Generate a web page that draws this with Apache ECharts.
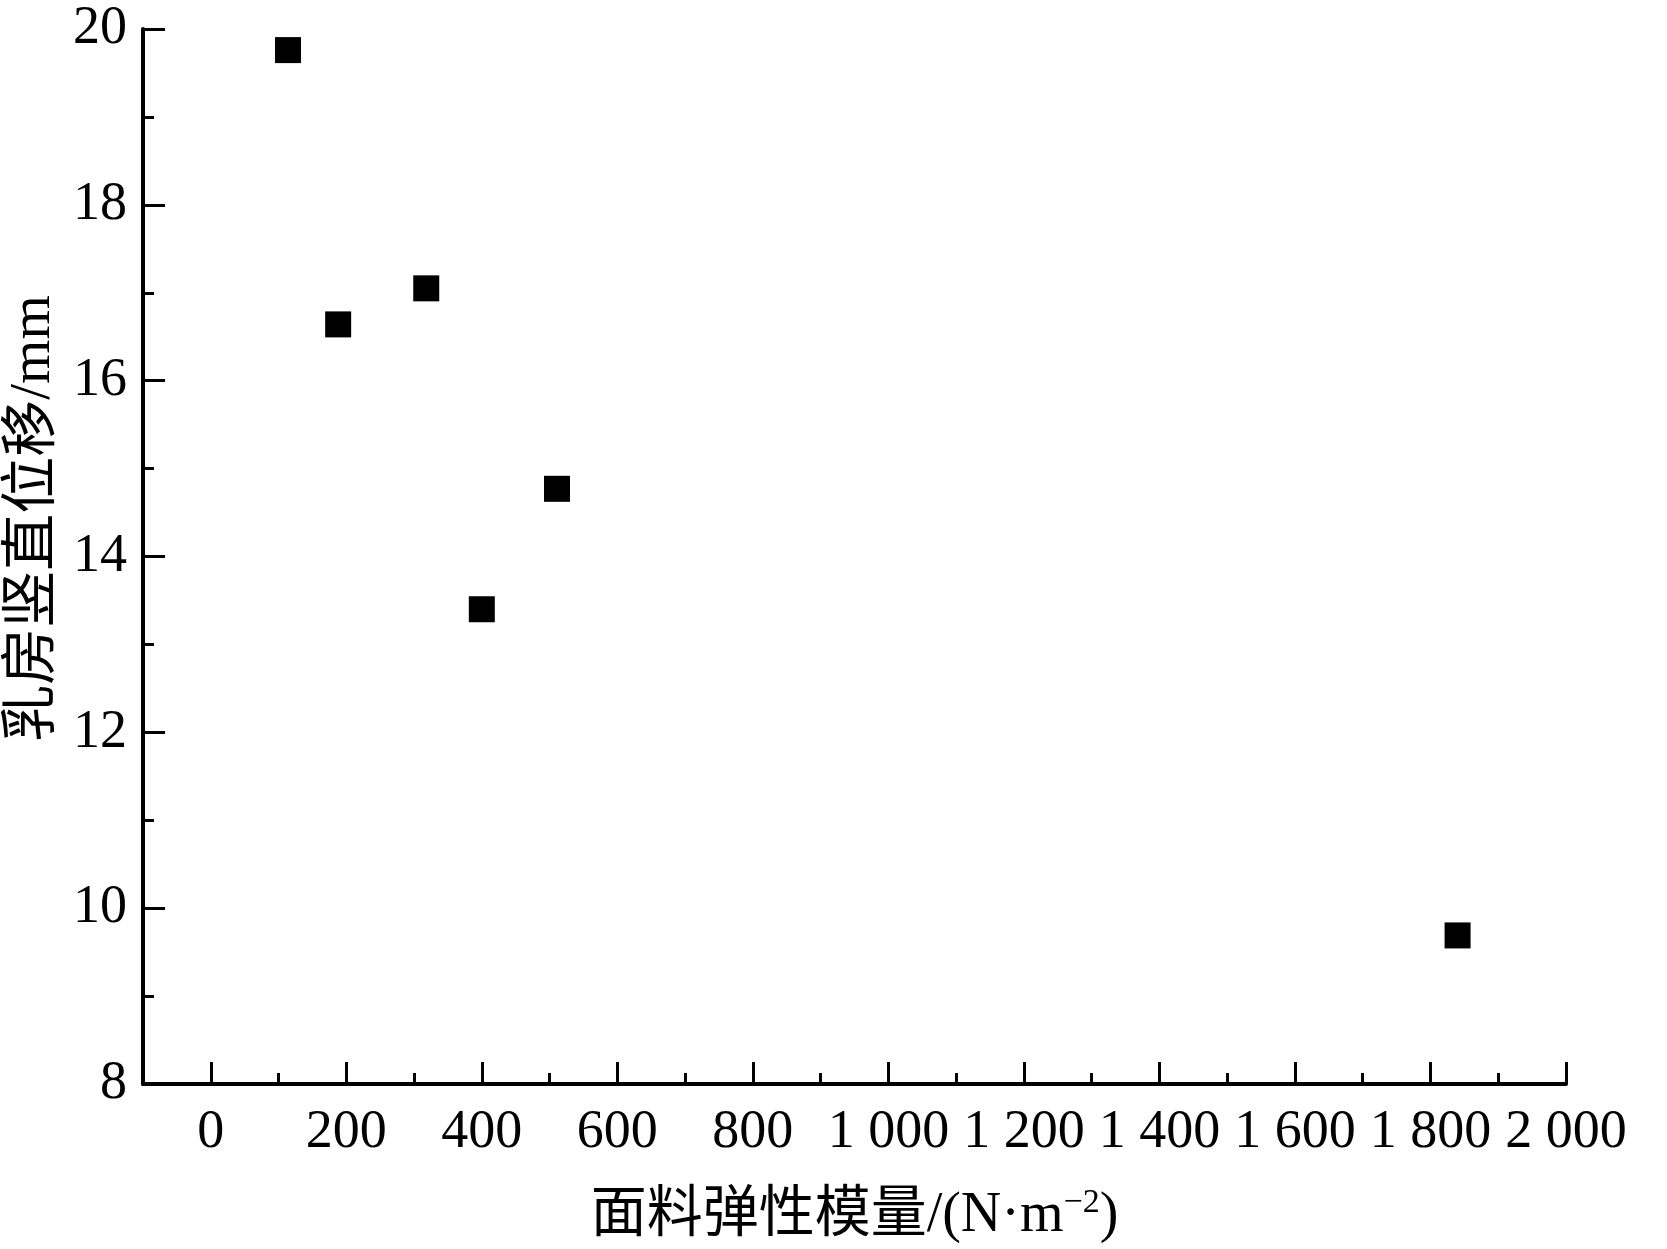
<!DOCTYPE html>
<html>
<head>
<meta charset="utf-8">
<script src="https://cdn.jsdelivr.net/npm/echarts@6/dist/echarts.min.js"></script>
<style>
html,body{margin:0;padding:0;background:#fff;}
#chart{width:1667px;height:1249px;}
</style>
</head>
<body>
<div id="chart"></div>
<script>
// Data
const modulus = [114, 188, 318, 400, 511, 1840];          // 面料弹性模量 (N·m^-2)
const displacement = [19.76, 16.64, 17.05, 13.40, 14.77, 9.69]; // 乳房竖直位移 (mm)
const xMajorTicks = [0, 200, 400, 600, 800, 1000, 1200, 1400, 1600, 1800, 2000];
const xMinorTicks = [100, 300, 500, 700, 900, 1100, 1300, 1500, 1700, 1900];
const xTitle = '面料弹性模量/(N·m';
const xTitleSup = '−2';
const yTitle = '乳房竖直位移/mm';

const FONT = '"Liberation Serif", "Times New Roman", "Noto Sans CJK SC", serif';
const points = modulus.map((x, i) => [x, displacement[i]]);

function fmt(v) {
  const s = String(v);
  return s.length > 3 ? s.slice(0, s.length - 3) + ' ' + s.slice(-3) : s;
}

const chart = echarts.init(document.getElementById('chart'), null, {renderer: 'canvas'});
chart.setOption({
  backgroundColor: '#ffffff',
  animation: false,
  grid: {left: 143, right: 101, top: 29, bottom: 165, containLabel: false, outerBoundsMode: 'none'},
  xAxis: [{
    type: 'value', min: -100, max: 2000,
    position: 'bottom',
    axisLine: {show: true, onZero: false, lineStyle: {color: '#000', width: 4}},
    axisTick: {show: true, inside: true, length: 22, lineStyle: {color: '#000', width: 3}, customValues: xMajorTicks},
    axisLabel: {show: true, margin: 22, color: '#000', fontSize: 54, fontFamily: FONT, customValues: xMajorTicks, formatter: fmt},
    splitLine: {show: false},
    name: '{t|' + xTitle + '}{s|' + xTitleSup + '}{t|)}',
    nameLocation: 'middle', nameGap: 102,
    nameTextStyle: {
      rich: {
        t: {fontSize: 56, fontFamily: FONT, color: '#000', lineHeight: 60},
        s: {fontSize: 34, fontFamily: FONT, color: '#000', verticalAlign: 'top', lineHeight: 60, padding: [0, 0, 24, 0]}
      }
    }
  }, {
    type: 'value', min: -100, max: 2000,
    position: 'bottom',
    axisLine: {show: false, onZero: false},
    axisTick: {show: true, inside: true, length: 11, lineStyle: {color: '#000', width: 3}, customValues: xMinorTicks},
    axisLabel: {show: false},
    splitLine: {show: false}
  }],
  yAxis: {
    type: 'value', min: 8, max: 20, interval: 2,
    axisLine: {show: true, onZero: false, lineStyle: {color: '#000', width: 4}},
    axisTick: {show: true, inside: true, length: 22, lineStyle: {color: '#000', width: 3}},
    minorTick: {show: true, splitNumber: 2, length: 11, lineStyle: {color: '#000', width: 3}},
    axisLabel: {show: true, margin: 16, color: '#000', fontSize: 54, fontFamily: FONT},
    splitLine: {show: false},
    minorSplitLine: {show: false},
    name: yTitle,
    nameLocation: 'middle', nameGap: 80,
    nameTextStyle: {fontSize: 57, fontFamily: FONT, color: '#000', padding: [0, 0, 0, 76]}
  },
  series: [{
    type: 'scatter',
    xAxisIndex: 0,
    data: points,
    symbol: 'rect',
    symbolSize: 26,
    itemStyle: {color: '#000', opacity: 1}
  }]
});
</script>
</body>
</html>
